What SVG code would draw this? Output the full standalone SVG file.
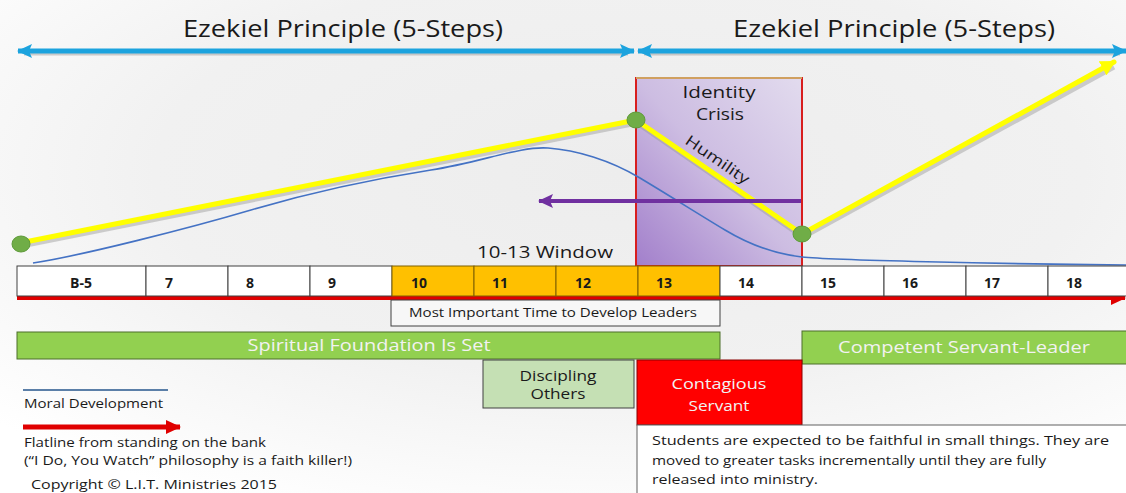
<svg xmlns="http://www.w3.org/2000/svg" width="1126" height="493" viewBox="0 0 1126 493">
<defs>
<radialGradient id="bg" cx="0.55" cy="0.35" r="0.75">
<stop offset="0" stop-color="#EDEDED"/>
<stop offset="0.55" stop-color="#F1F1F1"/>
<stop offset="1" stop-color="#FFFFFF"/>
</radialGradient>
<linearGradient id="purp" x1="1" y1="0" x2="0" y2="1">
<stop offset="0" stop-color="#E2DBEE"/>
<stop offset="0.5" stop-color="#CDBDE2"/>
<stop offset="1" stop-color="#A27FCB"/>
</linearGradient>
<marker id="blueHead" markerWidth="16" markerHeight="14" refX="14" refY="7" orient="auto-start-reverse" markerUnits="userSpaceOnUse">
<path d="M0,0 L15,7 L0,14 L3,7 Z" fill="#1CA3DE"/>
</marker>
<marker id="redHead" markerWidth="16" markerHeight="14" refX="14" refY="7" orient="auto" markerUnits="userSpaceOnUse">
<path d="M0,0 L15,7 L0,14 Z" fill="#E00000"/>
</marker>
<marker id="purpleHead" markerWidth="16" markerHeight="14" refX="14" refY="7" orient="auto" markerUnits="userSpaceOnUse">
<path d="M0,0 L15,7 L0,14 L3,7 Z" fill="#7030A0"/>
</marker>
<marker id="yellowHead" markerWidth="16" markerHeight="16" refX="13" refY="8" orient="auto" markerUnits="userSpaceOnUse">
<path d="M0,0 L15,8 L0,16 Z" fill="#FFFF00"/>
</marker>
<style>
text{font-family:"Open Sans","Liberation Sans",sans-serif;fill:#1a1a1a}
.title{font-size:23px}
.num{font-size:14px;font-weight:700}
.cell{fill:#FFFFFF;stroke:#404040;stroke-width:1}
.cellO{fill:#FFC000;stroke:#7F6000;stroke-width:1}
.green{fill:#92D050;stroke:#4d6e2b;stroke-width:1}
.wtxt{fill:#F2F2F2;font-size:17px}
.small{font-size:13px}
.legend{font-size:12px}
.blue{stroke:#1CA3DE;stroke-width:5;fill:none}
.bshadow{stroke:#8a8a8a;stroke-opacity:0.4;stroke-width:5;fill:none}
.yel{stroke:#FFFF00;stroke-width:5;fill:none;stroke-linecap:round}
.yshadow{stroke:#9a9a9a;stroke-opacity:0.45;stroke-width:5;fill:none}
.dot{fill:#70AD47;stroke:#5e9a3a;stroke-width:1}
</style>
</defs>
<rect x="0" y="0" width="1126" height="493" fill="url(#bg)"/>

<g id="title-left"><text class="title" x="183" y="37" textLength="320" lengthAdjust="spacingAndGlyphs">Ezekiel Principle (5-Steps)</text></g>
<g id="title-right"><text class="title" x="733" y="37" textLength="322" lengthAdjust="spacingAndGlyphs">Ezekiel Principle (5-Steps)</text></g>

<g id="identity-crisis">
<rect x="636" y="78" width="166" height="188" fill="url(#purp)" stroke="#D81E1E" stroke-width="2"/>
<line x1="636" y1="78" x2="802" y2="78" stroke="#D0A060" stroke-width="2"/>
<text x="719" y="98" font-size="17" text-anchor="middle" textLength="73" lengthAdjust="spacingAndGlyphs">Identity</text>
<text x="720" y="120" font-size="17" text-anchor="middle" textLength="48" lengthAdjust="spacingAndGlyphs">Crisis</text>
</g>

<g id="moral-curve">
<path d="M33,263 C80,256 190,228 251,210 S380,178 431,170 S520,146 548,148 S610,160 640,178 S700,215 725,230 S775,254 802,257 S1000,264 1126,265" fill="none" stroke="#4472C4" stroke-width="1.6"/>
</g>

<g id="connectors">
<line class="bshadow" x1="24" y1="53" x2="628" y2="53"/>
<line class="bshadow" x1="644" y1="53" x2="1120" y2="53"/>
<line class="blue" x1="18" y1="51" x2="634" y2="51" marker-start="url(#blueHead)" marker-end="url(#blueHead)"/>
<line class="blue" x1="638" y1="51" x2="1126" y2="51" marker-start="url(#blueHead)" marker-end="url(#blueHead)"/>
<polyline class="yshadow" points="21,246 637,123 803,237 1114,67"/>
<polyline class="yel" points="20,243 636,120 802,234 1114,62" stroke-linejoin="round" marker-end="url(#yellowHead)"/>
<line x1="801" y1="201" x2="539" y2="201" stroke="#7030A0" stroke-width="4" marker-end="url(#purpleHead)"/>
<line x1="17" y1="298" x2="1125" y2="298" stroke="#E00000" stroke-width="4" marker-end="url(#redHead)"/>
</g>

<g id="points">
<ellipse class="dot" cx="21" cy="244" rx="9" ry="8"/>
<ellipse class="dot" cx="636" cy="120" rx="9" ry="8"/>
<ellipse class="dot" cx="802" cy="234" rx="9" ry="8"/>
</g>

<g id="humility-label">
<text x="0" y="0" font-size="15" transform="translate(684,143) rotate(34.5)" textLength="74" lengthAdjust="spacingAndGlyphs">Humility</text>
</g>

<g id="window-label"><text x="477" y="258" font-size="17" textLength="136" lengthAdjust="spacingAndGlyphs">10-13 Window</text></g>

<g id="age-table">
<rect class="cell" x="17" y="266" width="129" height="30"/>
<rect class="cell" x="146" y="266" width="82" height="30"/>
<rect class="cell" x="228" y="266" width="82" height="30"/>
<rect class="cell" x="310" y="266" width="82" height="30"/>
<rect class="cellO" x="392" y="266" width="82" height="30"/>
<rect class="cellO" x="474" y="266" width="82" height="30"/>
<rect class="cellO" x="556" y="266" width="82" height="30"/>
<rect class="cellO" x="638" y="266" width="82" height="30"/>
<rect class="cell" x="720" y="266" width="82" height="30"/>
<rect class="cell" x="802" y="266" width="82" height="30"/>
<rect class="cell" x="884" y="266" width="82" height="30"/>
<rect class="cell" x="966" y="266" width="82" height="30"/>
<rect class="cell" x="1048" y="266" width="82" height="30"/>
<text class="num" x="81" y="288" text-anchor="middle">B-5</text>
<text class="num" x="165" y="288">7</text>
<text class="num" x="246" y="288">8</text>
<text class="num" x="328" y="288">9</text>
<text class="num" x="411" y="288">10</text>
<text class="num" x="492" y="288">11</text>
<text class="num" x="575" y="288">12</text>
<text class="num" x="656" y="288">13</text>
<text class="num" x="738" y="288">14</text>
<text class="num" x="820" y="288">15</text>
<text class="num" x="902" y="288">16</text>
<text class="num" x="984" y="288">17</text>
<text class="num" x="1066" y="288">18</text>
</g>

<g id="most-important">
<rect x="391" y="300" width="329" height="26" fill="#F7F7F7" stroke="#404040" stroke-width="1"/>
<text class="small" x="553" y="317" text-anchor="middle" textLength="288" lengthAdjust="spacingAndGlyphs">Most Important Time to Develop Leaders</text>
</g>

<g id="spiritual-foundation">
<rect class="green" x="17" y="332" width="703" height="27"/>
<text class="wtxt" x="369" y="351" text-anchor="middle" textLength="243" lengthAdjust="spacingAndGlyphs">Spiritual Foundation Is Set</text>
</g>

<g id="competent-servant">
<rect class="green" x="802" y="331" width="330" height="33"/>
<text class="wtxt" x="964" y="353" text-anchor="middle" textLength="252" lengthAdjust="spacingAndGlyphs">Competent Servant-Leader</text>
</g>

<g id="discipling-others">
<rect x="483" y="360" width="151" height="48" fill="#C5E0B4" stroke="#404040" stroke-width="1"/>
<text x="558" y="381" font-size="15" text-anchor="middle" textLength="77" lengthAdjust="spacingAndGlyphs">Discipling</text>
<text x="558" y="399" font-size="15" text-anchor="middle" textLength="55" lengthAdjust="spacingAndGlyphs">Others</text>
</g>

<g id="contagious-servant">
<rect x="637" y="360" width="165" height="65" fill="#FF0000" stroke="#8a0000" stroke-width="1"/>
<text x="719" y="389" font-size="15" text-anchor="middle" style="fill:#F2F2F2" textLength="95" lengthAdjust="spacingAndGlyphs">Contagious</text>
<text x="719" y="411" font-size="15" text-anchor="middle" style="fill:#F2F2F2" textLength="61" lengthAdjust="spacingAndGlyphs">Servant</text>
</g>

<g id="description">
<rect x="637" y="425" width="495" height="75" fill="#FFFFFF" stroke="#606060" stroke-width="1"/>
<text class="small" x="652" y="445" textLength="457" lengthAdjust="spacingAndGlyphs">Students are expected to be faithful in small things. They are</text>
<text class="small" x="652" y="465" textLength="394" lengthAdjust="spacingAndGlyphs">moved to greater tasks incrementally until they are fully</text>
<text class="small" x="652" y="484" textLength="166" lengthAdjust="spacingAndGlyphs">released into ministry.</text>
</g>

<g id="legend">
<line x1="23" y1="390" x2="168" y2="390" stroke="#5B7FA8" stroke-width="2"/>
<text class="legend" x="24" y="408" textLength="139" lengthAdjust="spacingAndGlyphs">Moral Development</text>
<line x1="23" y1="427" x2="180" y2="427" stroke="#E00000" stroke-width="5" marker-end="url(#redHead)"/>
<text class="legend" x="24" y="447" textLength="242" lengthAdjust="spacingAndGlyphs">Flatline from standing on the bank</text>
<text class="legend" x="24" y="465" textLength="328" lengthAdjust="spacingAndGlyphs">(“I Do, You Watch” philosophy is a faith killer!)</text>
<text class="small" x="31" y="489" textLength="246" lengthAdjust="spacingAndGlyphs">Copyright © L.I.T. Ministries 2015</text>
</g>
</svg>
